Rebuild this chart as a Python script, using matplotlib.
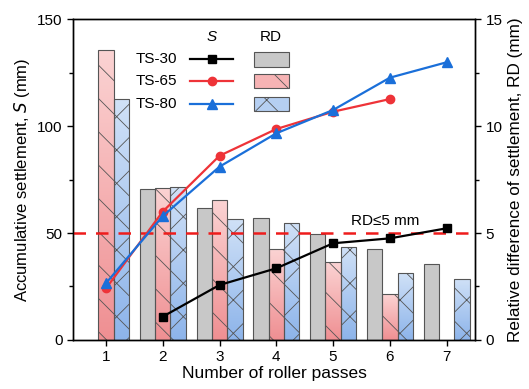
import numpy as np
import matplotlib
matplotlib.use("Agg")
import matplotlib.pyplot as plt
from matplotlib.lines import Line2D
from matplotlib.patches import Rectangle
from matplotlib.colors import LinearSegmentedColormap

plt.rcParams["font.family"] = ["Liberation Sans", "DejaVu Sans"]
plt.rcParams["hatch.linewidth"] = 0.6
plt.rcParams["hatch.color"] = "#3a3a3a"

# accumulative settlement S (mm), left axis
passes_30 = [2, 3, 4, 5, 6, 7]
s_30 = [10.9, 25.7, 33.5, 45.2, 47.5, 52.2]
passes_65 = [1, 2, 3, 4, 5, 6]
s_65 = [24.1, 60.0, 86.1, 98.6, 106.7, 112.6]
passes_80 = [1, 2, 3, 4, 5, 6, 7]
s_80 = [26.5, 57.9, 81.0, 96.6, 107.5, 122.6, 129.8]

# relative difference of settlement RD (mm), right axis
rd_passes_30 = [2, 3, 4, 5, 6, 7]
rd_30 = [7.04, 6.15, 5.70, 4.97, 4.25, 3.54]
rd_passes_65 = [1, 2, 3, 4, 5, 6]
rd_65 = [13.55, 7.12, 6.53, 4.25, 3.63, 2.15]
rd_passes_80 = [1, 2, 3, 4, 5, 6, 7]
rd_80 = [11.26, 7.17, 5.64, 5.47, 4.36, 3.12, 2.86]

labels = ["TS-30", "TS-65", "TS-80"]
rd_limit = 5

pink_cmap = LinearSegmentedColormap.from_list("pink", ["#ef8f92", "#fbd3d3"])
blue_cmap = LinearSegmentedColormap.from_list("blue", ["#8db4ea", "#d0e1f7"])
grad = np.linspace(0, 1, 256).reshape(-1, 1)

fig = plt.figure(figsize=(5.29, 3.89), dpi=100)
ax = fig.add_axes([0.138, 0.126, 0.760, 0.825])
ax2 = ax.twinx()
ax.set_zorder(ax2.get_zorder() + 1)
ax.patch.set_visible(False)

width = 0.27


def draw_bars(axis, xs, vals, offset, cmap, hatch, solid=None):
    for x, v in zip(xs, vals):
        x0 = x + offset - width / 2
        if solid is None:
            im = axis.imshow(grad, cmap=cmap, origin="lower", aspect="auto",
                             extent=(x0, x0 + width, 0, v), zorder=1)
            rect = Rectangle((x0, 0), width, v, transform=axis.transData,
                             facecolor="none", edgecolor="none")
            axis.add_patch(rect)
            im.set_clip_path(rect)
        axis.bar(x + offset, v, width, facecolor=solid if solid else "none",
                 edgecolor="#555555", linewidth=0.8, hatch=hatch, zorder=2)


draw_bars(ax2, rd_passes_30, rd_30, -width, None, None, solid="#c8c8c8")
draw_bars(ax2, rd_passes_65, rd_65, 0, pink_cmap, "\\")
draw_bars(ax2, rd_passes_80, rd_80, width, blue_cmap, "x")

ax2.axhline(rd_limit, color="#ee1c1c", linestyle=(0, (5, 4)), linewidth=1.8, zorder=3)
ax2.text(5.91, rd_limit + 0.25, "RD≤5 mm", fontsize=11, ha="center", va="bottom")

ms = {"s": 5.5, "o": 6, "^": 6.5}
ax.plot(passes_30, s_30, color="black", marker="s", markersize=ms["s"], linewidth=1.6)
ax.plot(passes_65, s_65, color="#ee3338", marker="o", markersize=ms["o"], linewidth=1.6)
ax.plot(passes_80, s_80, color="#1a6fd9", marker="^", markersize=ms["^"], linewidth=1.6)

ax.set_xlim(0.42, 7.5)
ax.set_ylim(0, 150)
ax2.set_ylim(0, 15)
ax.set_xticks(range(1, 8))
ax.set_yticks([0, 50, 100, 150])
ax.set_yticks([25, 75, 125], minor=True)
ax2.set_yticks([0, 5, 10, 15])
ax2.set_yticks([2.5, 7.5, 12.5], minor=True)
for a in (ax, ax2):
    a.tick_params(which="both", direction="out", labelsize=11, width=1)
    a.tick_params(which="major", length=4)
    a.tick_params(which="minor", length=3)
    for sp in a.spines.values():
        sp.set_linewidth(1.0)
ax.set_xlabel("Number of roller passes", fontsize=12.5, labelpad=1)
ax.set_ylabel("Accumulative settlement, $\\it{S}$ (mm)", fontsize=12, labelpad=4)
ax2.set_ylabel("Relative difference of settlement, RD (mm)", fontsize=12.3, labelpad=4)

# custom legend
colors = ["black", "#ee3338", "#1a6fd9"]
markers = ["s", "o", "^"]
faces = ["#c8c8c8", "#f6b3b4", "#b5cff2"]
hatches = [None, "\\", "x"]
rows = [0.875, 0.807, 0.735]
ax.text(0.346, 0.944, "S", style="italic", fontsize=11, ha="center", va="center",
        transform=ax.transAxes)
ax.text(0.493, 0.944, "RD", fontsize=11, ha="center", va="center",
        transform=ax.transAxes)
for lab, c, m, fc, h, y in zip(labels, colors, markers, faces, hatches, rows):
    ax.text(0.259, y, lab, fontsize=11, ha="right", va="center", transform=ax.transAxes)
    ax.add_line(Line2D([0.291, 0.398], [y, y], color=c, linewidth=1.6,
                       transform=ax.transAxes))
    ax.add_line(Line2D([0.345], [y], color=c, marker=m, markersize=ms[m],
                       transform=ax.transAxes))
    ax.add_patch(Rectangle((0.450, y - 0.023), 0.087, 0.046, transform=ax.transAxes,
                           facecolor=fc, edgecolor="#555555", linewidth=0.8, hatch=h))

fig.savefig("out.png", dpi=100)
